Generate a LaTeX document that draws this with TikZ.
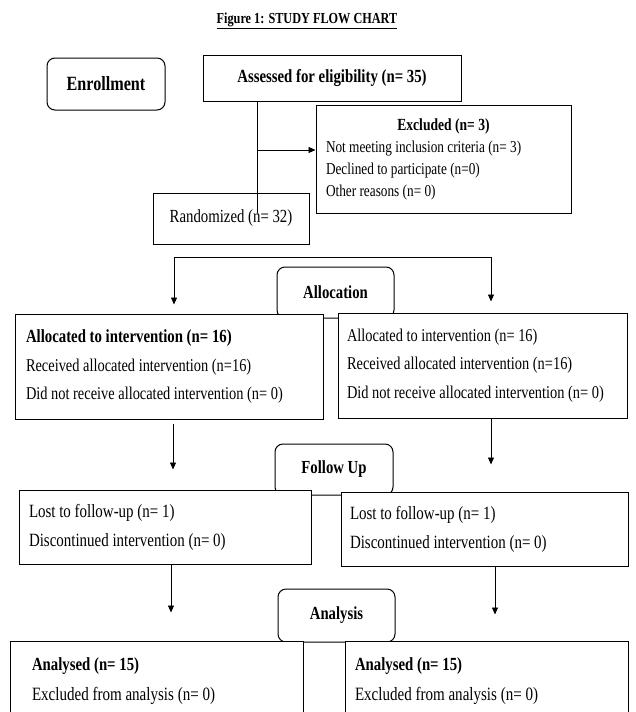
\documentclass[tikz,border=0pt]{standalone}
\usepackage{fontspec}
\setmainfont{Liberation Serif}[FakeStretch=0.8]
\usepackage{tikz}
\usetikzlibrary{arrows.meta,positioning}
\newcommand{\hd}{\fontsize{18.4}{20}\selectfont\bfseries}
\newcommand{\bd}{\fontsize{18.5}{20}\selectfont\bfseries}
\newcommand{\smalltxt}{\fontsize{16.6}{22}\selectfont}
\newcommand{\alloctxt}{\fontsize{18}{28.5}\selectfont}
\newcommand{\futxt}{\fontsize{18.7}{29}\selectfont}
\newcommand{\antxt}{\fontsize{18.8}{30}\selectfont}

\begin{document}
\begin{tikzpicture}[
  x=1pt, y=-1pt,
  box/.style={draw, line width=1pt, fill=white, inner ysep=0pt, align=flush left},
  plain/.style={draw, line width=1pt, fill=white, inner sep=0pt, align=center},
  head/.style={draw, line width=1pt, fill=white, rounded corners=8pt, inner sep=0pt, font=\hd},
  arrow/.style={-{Triangle[length=7pt,width=6pt]}, line width=0.8pt},
  link/.style={line width=0.8pt}
]
\path[use as bounding box] (0,0) rectangle (636,712);
\clip (0,0) rectangle (636,712);

\node (title) at (307,21) {\fontsize{15.3}{16}\selectfont\bfseries\underline{Figure 1: STUDY FLOW CHART}};
\node[head, minimum width=118pt, minimum height=52pt, font=\fontsize{20.2}{22}\selectfont\bfseries] (enroll) at (106,84) {Enrollment};
\node[plain, minimum width=258pt, minimum height=46pt, font=\fontsize{18.5}{20}\selectfont\bfseries] (assess) at (332,78) {Assessed for eligibility (n= 35)};
\node[box, text width=235pt, inner xsep=10pt, minimum height=108pt, font=\smalltxt] (excl) at (443.5,159)
  {\makebox[235pt]{\fontsize{17}{22}\selectfont\bfseries Excluded (n= 3)}\\
   Not meeting inclusion criteria (n= 3)\\
   Declined to participate (n=0)\\
   Other reasons (n= 0)};
\node[plain, minimum width=156pt, minimum height=51pt, font=\fontsize{18.5}{20}\selectfont] (rand) at (231,218.5) {Randomized (n= 32)};

% allocation
\node[head, minimum width=117pt, minimum height=51pt] (alloc) at (335.5,292.5) {Allocation};
\node[box, text width=286pt, inner xsep=11pt, minimum height=105pt, font=\alloctxt] (allocL) at (169,366.5)
  {{\bd Allocated to intervention (n= 16)}\\
   Received allocated intervention (n=16)\\
   Did not receive allocated intervention (n= 0)};
\node[box, text width=271pt, inner xsep=9pt, minimum height=105pt, font=\alloctxt] (allocR) at (482.5,365.5)
  {Allocated to intervention (n= 16)\\
   Received allocated intervention (n=16)\\
   Did not receive allocated intervention (n= 0)};

% follow up
\node[head, minimum width=118pt, minimum height=51pt] (fu) at (334,469.5) {Follow Up};
\node[box, text width=272pt, inner xsep=10pt, minimum height=74pt, font=\futxt] (fuL) at (165,527)
  {Lost to follow-up (n= 1)\\
   Discontinued intervention (n= 0)};
\node[box, text width=269pt, inner xsep=9pt, minimum height=74pt, font=\futxt] (fuR) at (484.5,529)
  {Lost to follow-up (n= 1)\\
   Discontinued intervention (n= 0)};

% analysis
\node[head, minimum width=117pt, minimum height=53pt] (an) at (336.5,615.5) {Analysis};
\node[box, text width=249pt, inner xsep=22pt, minimum height=81pt, font=\antxt] (anL) at (156.5,681.5)
  {{\bd Analysed (n= 15)}\\
   Excluded from analysis (n= 0)};
\node[box, text width=263pt, inner xsep=10pt, minimum height=81pt, font=\antxt] (anR) at (486.5,681.5)
  {{\bd Analysed (n= 15)}\\
   Excluded from analysis (n= 0)};

% connectors
\coordinate (trunk) at ([xshift=-75pt]assess.south);
\coordinate (tend) at ([yshift=5.5pt]rand.center);
\coordinate (exin) at ([yshift=9pt]excl.west);
\draw[link] (trunk) -- (trunk |- tend);
\draw[arrow] (trunk |- exin) -- (exin);
\coordinate (splitL) at (174,257);
\coordinate (splitR) at (491,257);
\draw[link] (splitL) -- (splitR);
\draw[arrow, shorten >=9pt] (splitL) -- (splitL |- allocL.north);
\draw[arrow, shorten >=11pt] (splitR) -- (splitR |- allocR.north);
\coordinate (lfu) at ([xshift=4pt]allocL.south);
\coordinate (rfu) at ([xshift=8.5pt]allocR.south);
\draw[arrow, shorten <=4pt, shorten >=20pt] (lfu) -- (lfu |- fuL.north);
\draw[arrow, shorten >=27pt] (rfu) -- (rfu |- fuR.north);
\coordinate (lan) at ([xshift=6pt]fuL.south);
\coordinate (ran) at ([xshift=10.5pt]fuR.south);
\draw[arrow, shorten >=28pt] (lan) -- (lan |- anL.north);
\draw[arrow, shorten >=26pt] (ran) -- (ran |- anR.north);
\end{tikzpicture}
\end{document}
